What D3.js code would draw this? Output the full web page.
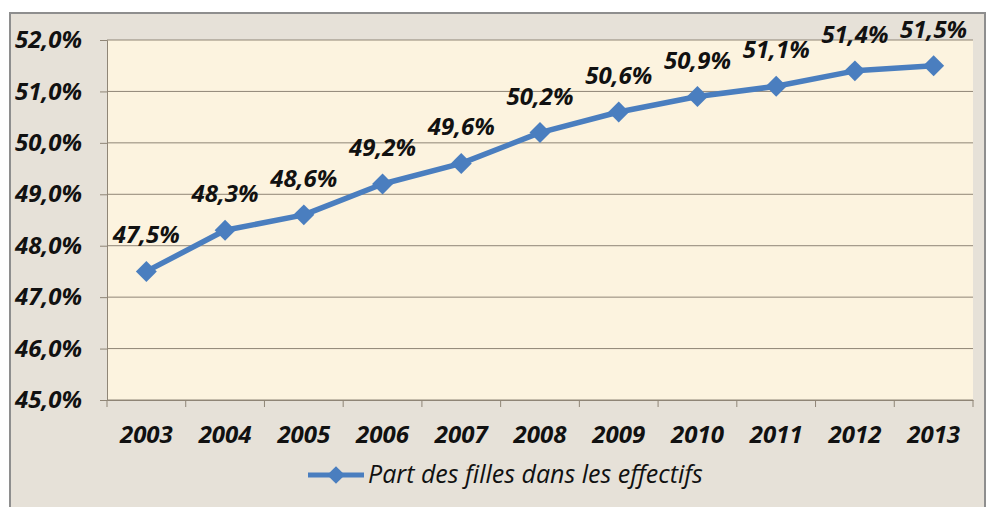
<!DOCTYPE html>
<html>
<head>
<meta charset="utf-8">
<script src="https://cdn.jsdelivr.net/npm/d3@7"></script>
<style>
  body { margin: 0; background: #fff; }
  text { font-family: "Open Sans", sans-serif; }
</style>
</head>
<body>
<svg id="chart" width="989" height="507"></svg>
<script>
const years = ["2003", "2004", "2005", "2006", "2007", "2008", "2009", "2010", "2011", "2012", "2013"]
const share = [47.5, 48.3, 48.6, 49.2, 49.6, 50.2, 50.6, 50.9, 51.1, 51.4, 51.5]
const yTicks = [45, 46, 47, 48, 49, 50, 51, 52]
const seriesName = "Part des filles dans les effectifs"

const margin = { top: 40, right: 16, bottom: 107, left: 107 },
  width = 989 - margin.left - margin.right,
  height = 507 - margin.top - margin.bottom

const fmt = v => v.toFixed(1).replace(".", ",") + "%"
const fs = 24

const svg = d3.select("#chart")

// outer chart area
svg.append("rect").attr("x", 10).attr("y", 13).attr("width", 975).attr("height", 500)
  .attr("fill", "#e6e1d8").attr("stroke", "#8e8e8e").attr("stroke-width", 2)

const g = svg.append("g").attr("transform", `translate(${margin.left},${margin.top})`)

const x = d3.scaleBand().domain(years).range([0, width])
const y = d3.scaleLinear().domain([45, 52]).range([height, 0])

g.append("rect").attr("width", width).attr("height", height).attr("fill", "#fcf3df")

// gridlines
g.selectAll(".grid").data(yTicks).join("line").attr("class", "grid")
  .attr("x1", 0).attr("x2", width).attr("y1", d => y(d)).attr("y2", d => y(d))
  .attr("stroke", "#8f8576").attr("stroke-width", 1)

// y axis
const yAxis = g.append("g").call(d3.axisLeft(y).tickValues(yTicks).tickFormat(fmt).tickSize(7).tickPadding(18))
yAxis.select(".domain").attr("stroke", "#8f8576")
yAxis.selectAll(".tick line").attr("stroke", "#8f8576")
yAxis.selectAll("text").attr("font-size", fs).attr("font-weight", 700).attr("font-style", "italic").attr("fill", "#111")

// x axis with ticks between categories
const xAxis = g.append("g").attr("transform", `translate(0,${height})`)
  .call(d3.axisBottom(x).tickSize(0).tickPadding(26))
xAxis.select(".domain").attr("stroke", "#8f8576")
xAxis.selectAll("text").attr("font-size", fs).attr("font-weight", 700).attr("font-style", "italic").attr("fill", "#111")
g.selectAll(".xtick").data(d3.range(years.length + 1)).join("line").attr("class", "xtick")
  .attr("x1", i => i * x.step()).attr("x2", i => i * x.step())
  .attr("y1", height).attr("y2", height + 7).attr("stroke", "#8f8576")

const cx = d => x(d) + x.bandwidth() / 2
const pts = years.map((d, i) => ({ year: d, v: share[i] }))

const blue = "#4a7ebf"
g.append("path").datum(pts)
  .attr("d", d3.line().x(d => cx(d.year)).y(d => y(d.v)))
  .attr("fill", "none").attr("stroke", blue).attr("stroke-width", 5.5).attr("stroke-linejoin", "round")

g.selectAll(".mark").data(pts).join("path").attr("class", "mark")
  .attr("d", d3.symbol(d3.symbolDiamond2, 280))
  .attr("transform", d => `translate(${cx(d.year)},${y(d.v)})`)
  .attr("fill", blue)

g.selectAll(".lbl").data(pts).join("text").attr("class", "lbl")
  .attr("x", d => cx(d.year)).attr("y", d => y(d.v) - 28)
  .attr("text-anchor", "middle").attr("font-size", fs).attr("font-weight", 700).attr("font-style", "italic").attr("fill", "#111")
  .text(d => fmt(d.v))

// legend
const lg = svg.append("g").attr("transform", "translate(308,475)")
lg.append("line").attr("x1", 0).attr("x2", 56).attr("stroke", blue).attr("stroke-width", 5)
lg.append("path").attr("d", d3.symbol(d3.symbolDiamond2, 200)).attr("transform", "translate(28,0)").attr("fill", blue)
lg.append("text").attr("x", 60).attr("y", 8).attr("font-size", 25).attr("font-style", "italic").attr("fill", "#111").text(seriesName)
</script>
</body>
</html>
